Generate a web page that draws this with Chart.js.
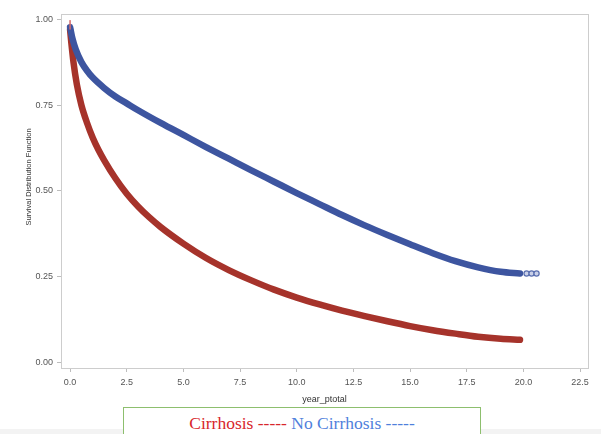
<!DOCTYPE html>
<html>
<head>
<meta charset="utf-8">
<script src="https://cdn.jsdelivr.net/npm/chart.js@4/dist/chart.umd.min.js"></script>
<style>
  html, body { margin: 0; padding: 0; background: #ffffff; }
  #wrap { position: relative; width: 601px; height: 434px; overflow: hidden; }
  #c { position: absolute; left: 0; top: 0; }
  #band { position: absolute; left: 0; top: 429px; width: 601px; height: 5px; background: #f3f3f3; }
  #legendBox { position: absolute; left: 123px; top: 407px; width: 358px; height: 40px;
    border: 1.5px solid #8dbf6e; background: #ffffff; box-sizing: border-box;
    text-align: center; font-family: "Liberation Serif", "Times New Roman", serif; font-size: 17.5px;
    line-height: 20px; padding-top: 5px; white-space: nowrap; }
  .red { color: #d8262b; }
  .blue { color: #4f7fdc; }
</style>
</head>
<body>
<div id="wrap">
  <canvas id="c" width="601" height="434"></canvas>
  <div id="band"></div>
  <div id="legendBox"><span class="red">Cirrhosis -----</span> <span class="blue">No Cirrhosis -----</span></div>
</div>
<script>
// ---- data ----
const cirrhosisTime = [0, 0.05, 0.15, 0.3, 0.5, 0.75, 1.0, 1.25, 1.5, 2.0, 2.5, 3.0, 3.5, 4.0, 5.0, 6.0, 7.0, 8.0, 9.0, 10.0, 11.0, 12.0, 13.0, 14.0, 15.0, 16.0, 17.0, 18.0, 19.0, 19.85];
const cirrhosisSurv = [0.97, 0.935, 0.875, 0.81, 0.75, 0.698, 0.655, 0.62, 0.59, 0.537, 0.492, 0.455, 0.423, 0.395, 0.347, 0.305, 0.27, 0.24, 0.213, 0.19, 0.17, 0.152, 0.136, 0.121, 0.107, 0.095, 0.085, 0.076, 0.07, 0.067];
const noCirrhosisTime = [0, 0.1, 0.25, 0.5, 0.75, 1.0, 1.5, 2.0, 2.5, 3.0, 4.0, 5.0, 6.0, 7.0, 8.0, 9.0, 10.0, 11.0, 12.0, 13.0, 14.0, 15.0, 16.0, 17.0, 18.0, 19.0, 19.85];
const noCirrhosisSurv = [0.977, 0.945, 0.912, 0.875, 0.85, 0.83, 0.80, 0.775, 0.755, 0.735, 0.698, 0.663, 0.628, 0.594, 0.56, 0.527, 0.494, 0.462, 0.43, 0.4, 0.372, 0.345, 0.319, 0.296, 0.278, 0.265, 0.26];
const noCirrhosisTailTime = [20.14, 20.36, 20.58];
const noCirrhosisTailSurv = [0.26, 0.26, 0.26];
const cirrhosisStartTime = [0, 0];
const cirrhosisStartSurv = [0.997, 0.97];
const xTickValues = [0, 2.5, 5, 7.5, 10, 12.5, 15, 17.5, 20, 22.5];
const yTickValues = [0, 0.25, 0.5, 0.75, 1.0];
const xTitle = "year_ptotal";
const yTitle = "Survival Distribution Function";

const toPts = (xs, ys) => xs.map((x, i) => ({ x: x, y: ys[i] }));

const frame = {
  id: 'frame',
  beforeDatasetsDraw(chart) {
    const { ctx, chartArea: a } = chart;
    ctx.save();
    ctx.strokeStyle = '#cdcdcd';
    ctx.lineWidth = 1;
    ctx.strokeRect(Math.round(a.left) + 0.5, Math.round(a.top) + 0.5, Math.round(a.right - a.left), Math.round(a.bottom - a.top));
    ctx.restore();
  },
  afterDraw(chart) {
    const { ctx } = chart;
    ctx.save();
    ctx.translate(29, 177);
    ctx.rotate(-Math.PI / 2);
    ctx.font = '7.5px "Liberation Sans", Arial, sans-serif';
    ctx.fillStyle = '#333333';
    ctx.textAlign = 'center';
    ctx.textBaseline = 'middle';
    ctx.fillText(yTitle, 0, 0);
    ctx.restore();
  }
};

new Chart(document.getElementById('c'), {
  type: 'line',
  data: {
    datasets: [
      { label: 'Cirrhosis start', data: toPts(cirrhosisStartTime, cirrhosisStartSurv),
        borderColor: 'rgba(215,110,110,0.8)', borderWidth: 1, pointRadius: 0 },
      { label: 'No Cirrhosis', data: toPts(noCirrhosisTime, noCirrhosisSurv),
        borderColor: '#3d55a0', borderWidth: 6.5, pointRadius: 0, borderCapStyle: 'round',
        cubicInterpolationMode: 'monotone' },
      { label: 'No Cirrhosis tail', data: toPts(noCirrhosisTailTime, noCirrhosisTailSurv),
        showLine: false, pointRadius: 2.6, pointBorderWidth: 1.2,
        pointBorderColor: '#5a6fb0', pointBackgroundColor: '#c9d0e8' },
      { label: 'Cirrhosis', data: toPts(cirrhosisTime, cirrhosisSurv),
        borderColor: '#a6332b', borderWidth: 6.5, pointRadius: 0, borderCapStyle: 'round',
        cubicInterpolationMode: 'monotone' }
    ]
  },
  options: {
    responsive: false,
    animation: false,
    layout: { padding: { left: 0, top: 14, right: 13, bottom: 26 } },
    plugins: { legend: { display: false }, tooltip: { enabled: false } },
    scales: {
      x: {
        type: 'linear', min: -0.4, max: 22.85,
        afterBuildTicks: s => { s.ticks = xTickValues.map(v => ({ value: v })); },
        afterFit: s => { s.height = 40; },
        grid: { display: true, drawOnChartArea: false, drawTicks: true, tickLength: 4, color: '#bdbdbd' },
        border: { display: false },
        ticks: { color: '#555555', padding: 5, maxRotation: 0, autoSkip: false,
          font: { family: '"Liberation Sans", Arial, sans-serif', size: 9 },
          callback: v => Number(v).toFixed(1) },
        title: { display: true, text: xTitle, color: '#333333', padding: { top: 0, bottom: 3 },
          font: { family: '"Liberation Sans", Arial, sans-serif', size: 9 } }
      },
      y: {
        type: 'linear', min: -0.015, max: 1.015,
        afterBuildTicks: s => { s.ticks = yTickValues.map(v => ({ value: v })); },
        afterFit: s => { s.width = 61; },
        grid: { display: true, drawOnChartArea: false, drawTicks: true, tickLength: 4, color: '#bdbdbd' },
        border: { display: false },
        ticks: { color: '#555555', padding: 4, autoSkip: false,
          font: { family: '"Liberation Sans", Arial, sans-serif', size: 9 },
          callback: v => Number(v).toFixed(2) }
      }
    }
  },
  plugins: [frame]
});
</script>
</body>
</html>
